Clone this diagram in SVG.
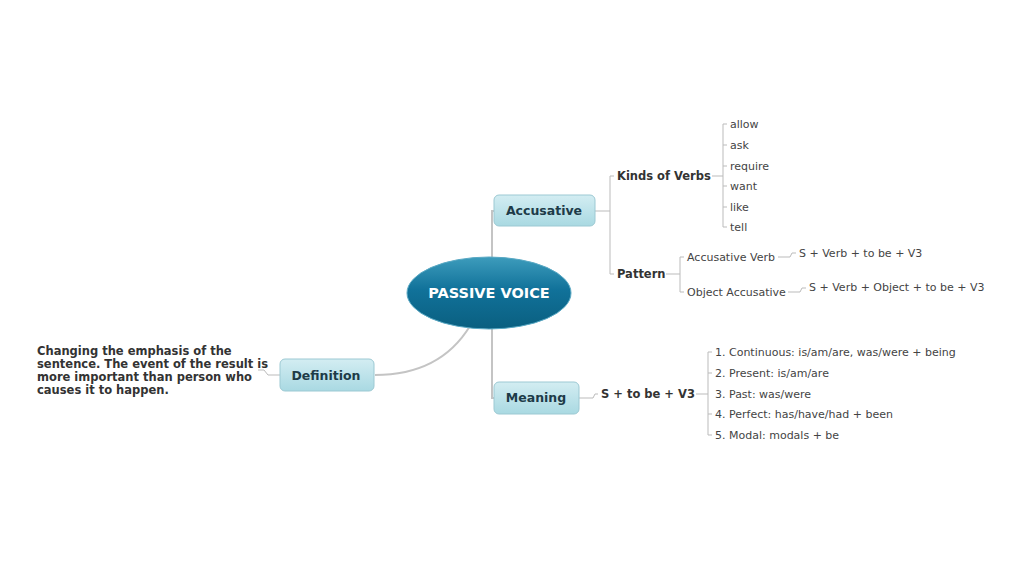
<svg xmlns="http://www.w3.org/2000/svg" width="1024" height="576" viewBox="0 0 1024 576">
<style>
text{font-family:"DejaVu Sans",Verdana,sans-serif;fill:#333}
.b{font-weight:bold;font-size:11.5px}
.n{font-size:11px;fill:#444}
.t{font-weight:bold;font-size:12.5px;fill:#1d3b48;text-anchor:middle}
.box{fill:url(#bg);stroke:#9cc9d3;stroke-width:1}
.c{fill:none;stroke:#bbb;stroke-width:1}
.m{fill:none;stroke:#c4c4c4;stroke-width:2}
</style>
<defs>
<linearGradient id="bg" x1="0" y1="0" x2="0" y2="1"><stop offset="0" stop-color="#d3edf2"/><stop offset="1" stop-color="#a9d9e2"/></linearGradient>
<linearGradient id="eg" x1="0" y1="0" x2="0" y2="1"><stop offset="0" stop-color="#3d9cbc"/><stop offset="0.45" stop-color="#11729a"/><stop offset="1" stop-color="#0a5f80"/></linearGradient>
</defs>
<rect width="1024" height="576" fill="#fff"/>
<g id="connectors">
<path class="m" d="M492 262V211H494M492 324V398H494"/>
<path class="m" d="M470 326Q440 375 375 375"/>
<path class="c" d="M280 375H268L264 370H258"/>
<path class="c" d="M595 211H610M610 176H614M610 274H614M610 176V274"/>
<path class="c" d="M712 176H723M727 124H723V227H727M723 145H727M723 166H727M723 186H727M723 207H727"/>
<path class="c" d="M666 274H680M684 257H680V292H684"/>
<path class="c" d="M778 257H790L792 253H796M788 292H800L802 288H806"/>
<path class="c" d="M579 398H593L595 394H598M696 394H708M712 352H708V435H712M708 373H712M708 414H712"/>
</g>
<g id="center"><ellipse cx="489" cy="293" rx="82" ry="36" fill="url(#eg)" stroke="#5aa9c4" stroke-width="1"/><text x="489" y="298" text-anchor="middle" font-weight="bold" font-size="14.5" style="fill:#fff">PASSIVE VOICE</text></g>
<g id="accusative"><rect class="box" x="494" y="195" width="101" height="31" rx="5"/><text class="t" x="544" y="215">Accusative</text></g>
<g id="meaning"><rect class="box" x="494" y="382" width="85" height="32" rx="5"/><text class="t" x="536" y="402">Meaning</text></g>
<g id="definition"><rect class="box" x="280" y="359" width="94" height="32" rx="5"/><text class="t" x="326" y="380">Definition</text></g>
<g id="def-text"><text class="b" x="37" y="355">Changing the emphasis of the</text><text class="b" x="37" y="368">sentence. The event of the result is</text><text class="b" x="37" y="381">more important than person who</text><text class="b" x="37" y="394">causes it to happen.</text></g>
<g id="kinds"><text class="b" x="617" y="180">Kinds of Verbs</text></g>
<g id="verbs"><text class="n" x="730" y="128">allow</text><text class="n" x="730" y="149">ask</text><text class="n" x="730" y="170">require</text><text class="n" x="730" y="190">want</text><text class="n" x="730" y="211">like</text><text class="n" x="730" y="231">tell</text></g>
<g id="pattern"><text class="b" x="617" y="278">Pattern</text></g>
<g id="acc-verb"><text class="n" x="687" y="261">Accusative Verb</text><text class="n" x="799" y="257">S + Verb + to be + V3</text></g>
<g id="obj-acc"><text class="n" x="687" y="296">Object Accusative</text><text class="n" x="809" y="291">S + Verb + Object + to be + V3</text></g>
<g id="formula"><text class="b" x="601" y="398">S + to be + V3</text></g>
<g id="tenses"><text class="n" x="715" y="356">1. Continuous: is/am/are, was/were + being</text><text class="n" x="715" y="377">2. Present: is/am/are</text><text class="n" x="715" y="398">3. Past: was/were</text><text class="n" x="715" y="418">4. Perfect: has/have/had + been</text><text class="n" x="715" y="439">5. Modal: modals + be</text></g>
</svg>
